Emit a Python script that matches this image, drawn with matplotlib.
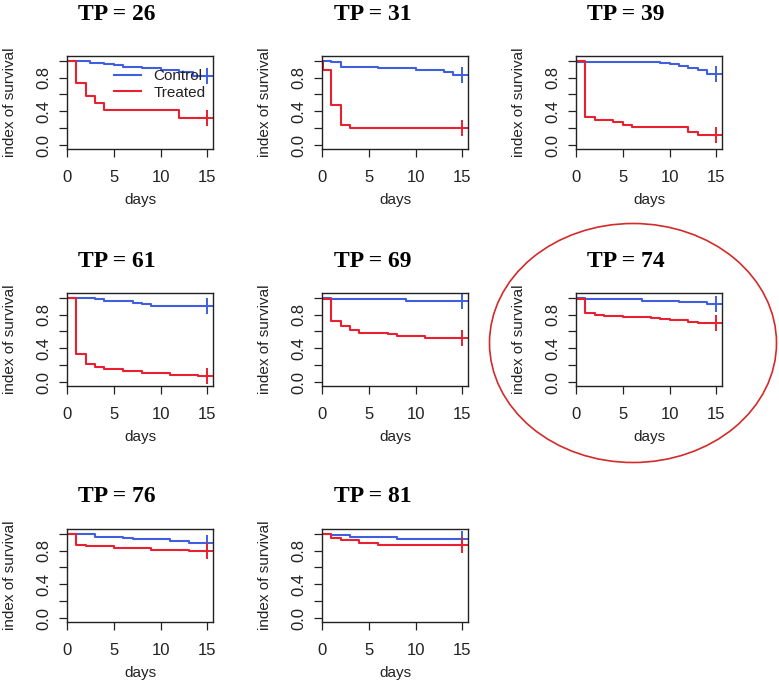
import matplotlib
matplotlib.use("Agg")
import matplotlib.pyplot as plt
from matplotlib.patches import Ellipse
from matplotlib.lines import Line2D

# ---- data ----
titles = ["TP = 26", "TP = 31", "TP = 39", "TP = 61", "TP = 69", "TP = 74", "TP = 76", "TP = 81"]
end_day = 15

ctrl_t_26 = [0, 1, 2.5, 4, 5, 6, 8, 10, 12, 13.5]
ctrl_s_26 = [1.0, 0.99, 0.975, 0.96, 0.95, 0.93, 0.91, 0.89, 0.86, 0.82]
trt_t_26 = [0, 1, 2, 3, 4, 12]
trt_s_26 = [1.0, 0.73, 0.58, 0.50, 0.42, 0.32]

ctrl_t_31 = [0, 0.3, 1, 2, 6, 10, 13, 14]
ctrl_s_31 = [1.0, 0.99, 0.98, 0.93, 0.915, 0.895, 0.86, 0.835]
trt_t_31 = [0, 0.1, 1, 2, 3]
trt_s_31 = [1.0, 0.89, 0.48, 0.24, 0.20]

ctrl_t_39 = [0, 0.1, 9, 10, 11, 12, 13, 14]
ctrl_s_39 = [1.0, 0.985, 0.97, 0.955, 0.935, 0.915, 0.885, 0.84]
trt_t_39 = [0, 1, 2, 4, 5, 6, 12, 13]
trt_s_39 = [1.0, 0.33, 0.30, 0.27, 0.24, 0.21, 0.16, 0.125]

ctrl_t_61 = [0, 0.5, 3, 4, 7, 8, 9]
ctrl_s_61 = [1.0, 0.99, 0.98, 0.955, 0.94, 0.92, 0.90]
trt_t_61 = [0, 1, 2, 3, 4, 6, 8, 11, 14]
trt_s_61 = [1.0, 0.33, 0.21, 0.18, 0.16, 0.13, 0.11, 0.09, 0.07]

ctrl_t_69 = [0, 1, 9]
ctrl_s_69 = [1.0, 0.98, 0.955]
trt_t_69 = [0, 1, 2, 3, 4, 7, 8, 11]
trt_s_69 = [0.98, 0.72, 0.665, 0.62, 0.585, 0.565, 0.546, 0.525]

ctrl_t_74 = [0, 1, 7, 11, 14]
ctrl_s_74 = [1.0, 0.98, 0.965, 0.95, 0.93]
trt_t_74 = [0, 1, 2, 3, 5, 8, 9, 10, 12, 13]
trt_s_74 = [0.98, 0.82, 0.80, 0.785, 0.77, 0.76, 0.745, 0.73, 0.715, 0.70]

ctrl_t_76 = [0, 1, 3, 6, 7, 11, 13]
ctrl_s_76 = [1.0, 0.99, 0.965, 0.95, 0.935, 0.915, 0.895]
trt_t_76 = [0, 0.8, 1, 2, 5, 9, 13]
trt_s_76 = [1.0, 0.99, 0.87, 0.85, 0.83, 0.81, 0.795]

ctrl_t_81 = [0, 1, 3, 8]
ctrl_s_81 = [1.0, 0.98, 0.96, 0.94]
trt_t_81 = [0, 1, 2, 4, 6]
trt_s_81 = [1.0, 0.95, 0.92, 0.895, 0.865]

panels = [
    (ctrl_t_26, ctrl_s_26, trt_t_26, trt_s_26),
    (ctrl_t_31, ctrl_s_31, trt_t_31, trt_s_31),
    (ctrl_t_39, ctrl_s_39, trt_t_39, trt_s_39),
    (ctrl_t_61, ctrl_s_61, trt_t_61, trt_s_61),
    (ctrl_t_69, ctrl_s_69, trt_t_69, trt_s_69),
    (ctrl_t_74, ctrl_s_74, trt_t_74, trt_s_74),
    (ctrl_t_76, ctrl_s_76, trt_t_76, trt_s_76),
    (ctrl_t_81, ctrl_s_81, trt_t_81, trt_s_81),
]
legend_labels = ["Control", "Treated"]
xticks = [0, 5, 10, 15]
yticks = [0.0, 0.2, 0.4, 0.6, 0.8, 1.0]
ytick_labels = ["0.0", "", "0.4", "", "0.8", ""]

# ---- styling ----
BLUE = "#3f5fe0"
RED = "#e8202f"
W, H = 779, 683
plt.rcParams["font.family"] = ["Liberation Sans", "DejaVu Sans"]

fig = plt.figure(figsize=(W / 100, H / 100), dpi=100)

col_left = [67, 322, 576]
row_top = [56, 293, 529]
title_x = [117, 373, 626]
title_y = [14, 262, 497]
AW, AH = 146, 93

def px_rect(left, top, w, h):
    return [left / W, 1 - (top + h) / H, w / W, h / H]

def ext(t, s):
    return list(t) + [end_day], list(s) + [s[-1]]

for i, (ct, cs, tt, ts) in enumerate(panels):
    r, c = divmod(i, 3)
    ax = fig.add_axes(px_rect(col_left[c], row_top[r], AW, AH))
    x, y = ext(ct, cs)
    ax.step(x, y, where="post", color=BLUE, lw=1.5)
    x2, y2 = ext(tt, ts)
    ax.step(x2, y2, where="post", color=RED, lw=1.5)
    ax.plot([end_day], [cs[-1]], marker="+", color=BLUE, ms=11, mew=1.4)
    ax.plot([end_day], [ts[-1]], marker="+", color=RED, ms=11, mew=1.4)
    ax.set_xlim(0, 15.6)
    ax.set_ylim(-0.045, 1.055)
    ax.set_xticks(xticks)
    ax.set_xticklabels([str(v) for v in xticks])
    ax.set_yticks(yticks)
    ax.set_yticklabels(ytick_labels)
    ax.tick_params(axis="both", direction="out", length=6, width=0.9,
                   labelsize=12, colors="#222222")
    ax.tick_params(axis="x", pad=9)
    ax.tick_params(axis="y", pad=5, labelrotation=90)
    for lab in ax.get_yticklabels():
        lab.set_va("center")
    for sp in ax.spines.values():
        sp.set_linewidth(1.0)
        sp.set_color("#222222")
    # titles and axis labels
    fig.text(title_x[c] / W, 1 - title_y[r] / H, titles[i], ha="center", va="center",
             fontsize=17, fontweight="bold", family="Liberation Serif")
    fig.text((col_left[c] - 57) / W, 1 - (row_top[r] + AH / 2) / H, "index of survival",
             rotation=90, ha="center", va="center", fontsize=11, color="#222222")
    fig.text((col_left[c] + AW / 2) / W, 1 - (row_top[r] + AH + 51) / H, "days",
             ha="center", va="center", fontsize=11, color="#222222")
    if i == 0:
        handles = [Line2D([], [], color=BLUE, lw=1.5), Line2D([], [], color=RED, lw=1.5)]
        ax.legend(handles, legend_labels, loc="upper left", bbox_to_anchor=(0.32, 0.855),
                  frameon=False, fontsize=11, handlelength=1.8, handletextpad=0.8,
                  labelspacing=0.15, borderpad=0, borderaxespad=0, labelcolor="#222222")

ell = Ellipse((633 / W, 1 - 343 / H), 287 / W, 239 / H, transform=fig.transFigure,
              fill=False, edgecolor="#d42a2a", lw=1.2)
fig.add_artist(ell)

fig.savefig("out.png", dpi=100)
